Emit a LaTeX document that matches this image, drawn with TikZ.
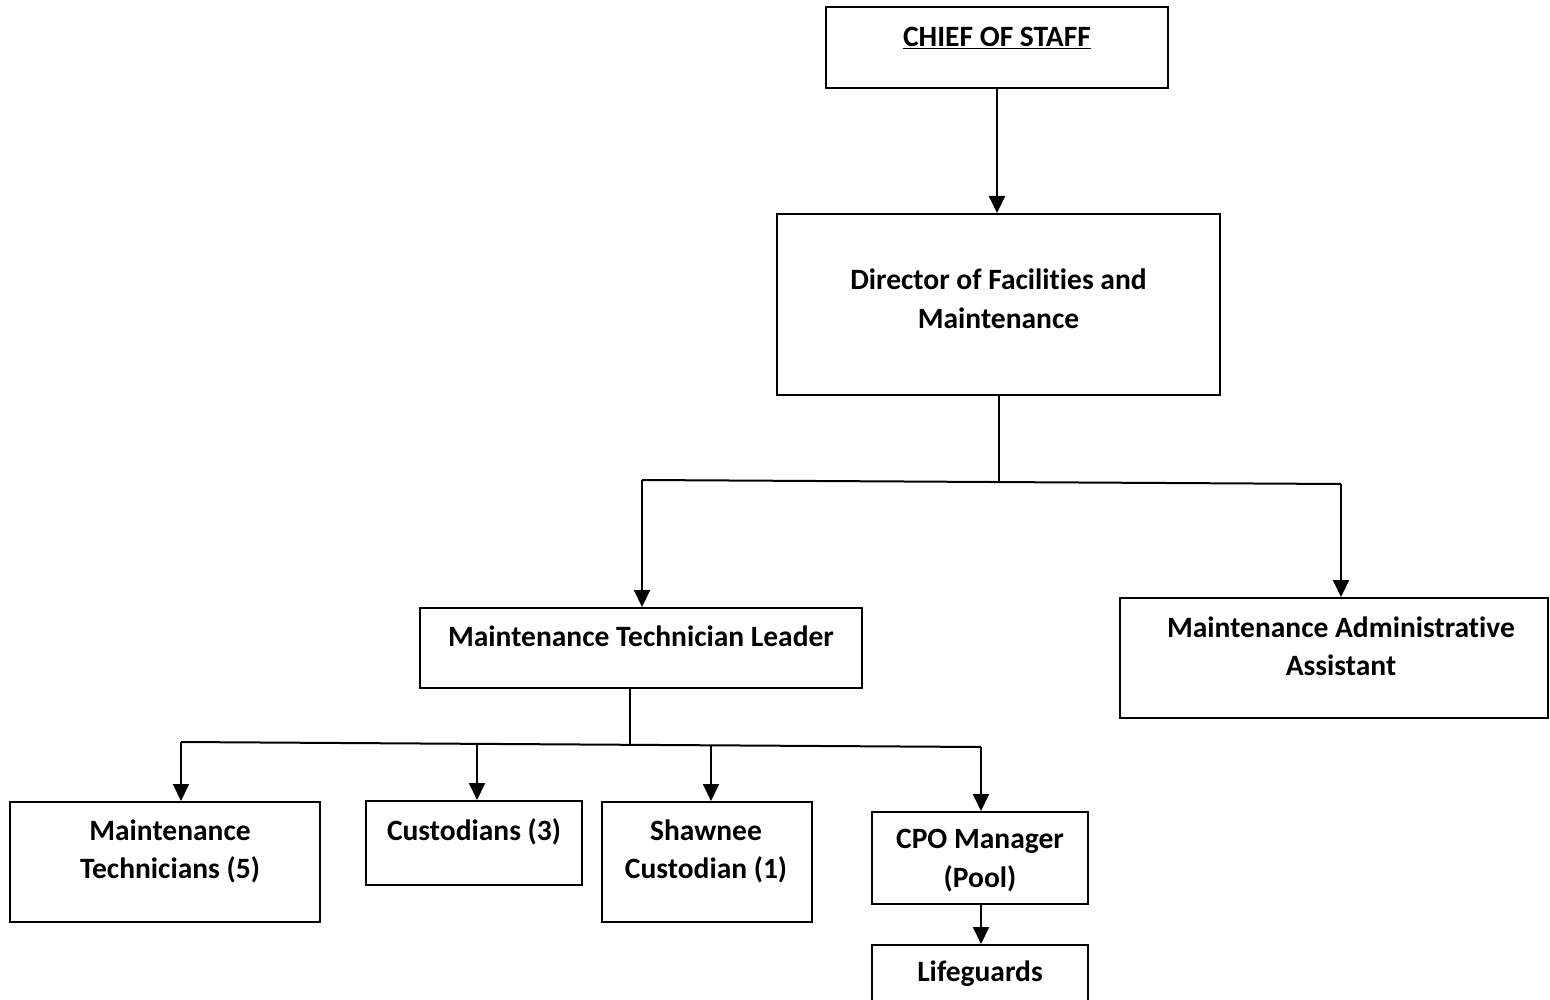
\documentclass[tikz,border=0pt]{standalone}
\usepackage{fontspec}
\setmainfont{Carlito}[RawFeature=-liga]
\usetikzlibrary{arrows.meta}
\begin{document}
\begin{tikzpicture}[x=1pt,y=-1pt,
  box/.style={draw=black,line width=2pt,rectangle,inner sep=0pt},
  txt/.style={font=\bfseries\fontsize{29.5}{38.5}\selectfont,align=center,inner sep=0pt},
  ln/.style={line width=2pt,black},
  arr/.style={line width=2pt,black,-{Triangle[width=16pt,length=17pt]}}]
\useasboundingbox (0,0) rectangle (1550,1000);
% boxes
\node[box,minimum width=342pt,minimum height=81pt] (cos) at (997,47.5) {};
\node[box,minimum width=443pt,minimum height=181pt] (dir) at (998.5,304.5) {};
\node[box,minimum width=442pt,minimum height=80pt] (mtl) at (641,648) {};
\node[box,minimum width=428pt,minimum height=120pt] (maa) at (1334,658) {};
\node[box,minimum width=310pt,minimum height=120pt] (mt) at (165,862) {};
\node[box,minimum width=216pt,minimum height=84pt] (cus) at (474,843) {};
\node[box,minimum width=210pt,minimum height=120pt] (sha) at (707,862) {};
\node[box,minimum width=216pt,minimum height=92pt] (cpo) at (980,858) {};
\node[box,minimum width=216pt,minimum height=80pt] (lif) at (980,985) {};
% texts
\node[txt] (cosT) at (997,38) {\underline{CHIEF OF STAFF}};
\node[txt] (dirT) at (998.5,299) {Director of Facilities and\\Maintenance};
\node[txt] (mtlT) at (641,636) {Maintenance Technician Leader};
\node[txt] (maaT) at (1341,646.5) {Maintenance Administrative\\Assistant};
\node[txt] (mtT) at (170,851.5) {Maintenance\\Technicians (5)};
\node[txt] (cusT) at (474,832) {Custodians (3)};
\node[txt] (shaT) at (706,851.5) {Shawnee\\Custodian (1)};
\node[txt] (cpoT) at (980,860.5) {CPO Manager\\(Pool)};
\node[txt] (lifT) at (980,974) {Lifeguards};
% junction coordinates
\coordinate (j1) at (999,482);
\coordinate (hL) at (642,480);
\coordinate (hR) at (1341,484);
\coordinate (j2) at (630,745);
\coordinate (a1) at (181,742);
\coordinate (a2) at (477,743.5);
\coordinate (a3) at (711,745);
\coordinate (a4) at (981,747);
% connectors
\draw[arr] (cos.south) -- (cos.south |- dir.north);
\draw[ln] (dir.south -| j1) -- (j1);
\draw[ln] (hL) -- (hR);
\draw[arr] (hL) -- (hL |- mtl.north);
\draw[arr] (hR) -- (hR |- maa.north);
\draw[ln] (mtl.south -| j2) -- (j2);
\draw[ln] (a1) -- (a4);
\draw[arr] (a1) -- (a1 |- mt.north);
\draw[arr] (a2) -- (a2 |- cus.north);
\draw[arr] (a3) -- (a3 |- sha.north);
\draw[arr] (a4) -- (a4 |- cpo.north);
\draw[arr] (cpo.south -| a4) -- (a4 |- lif.north);
\end{tikzpicture}
\end{document}
